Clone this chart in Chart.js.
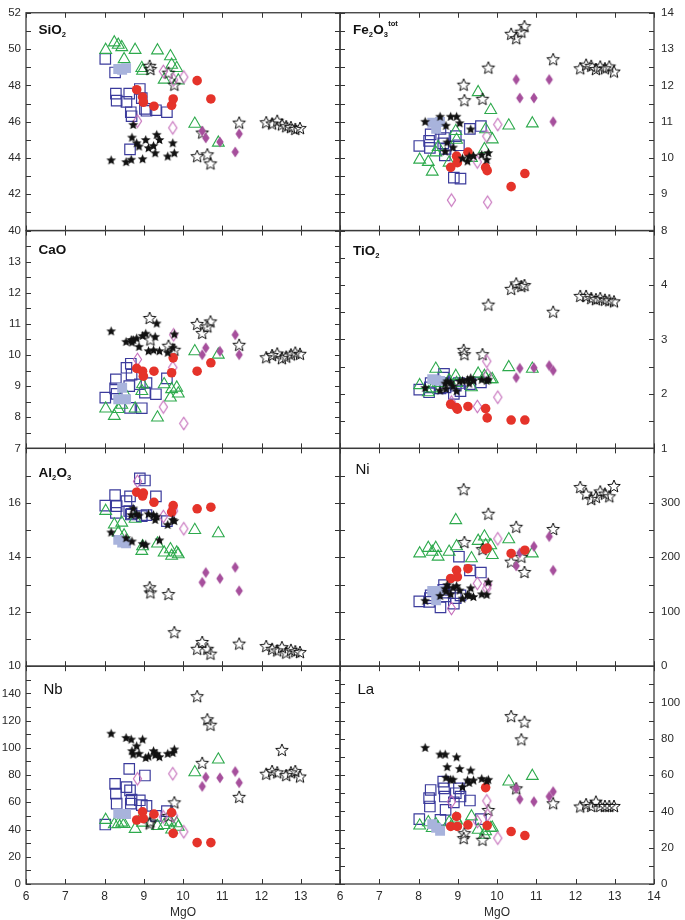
<!DOCTYPE html>
<html>
<head>
<meta charset="utf-8">
<script src="https://cdn.jsdelivr.net/npm/chart.js@4"></script>
<style>
  html, body { margin: 0; padding: 0; background: #fff; }
  #wrap { position: relative; width: 685px; height: 920px; }
</style>
</head>
<body>
<div id="wrap"><canvas id="myChart"></canvas></div>
<script>
// ---- data ----
// black filled stars
const bsMgO   = [8.17, 8.55, 8.68, 8.70, 8.73, 8.82, 8.88, 8.97, 9.05, 9.12, 9.25, 9.29, 9.33, 9.40, 9.61, 9.74, 9.78];
const bsSiO2  = [43.9, 43.8, 43.93, 45.15, 45.85, 44.84, 44.66, 43.96, 45.02, 44.57, 44.69, 44.29, 45.3, 45.02, 44.11, 44.84, 44.29];
const bsFe2O3 = [11.01, 11.15, 10.19, 10.9, 10.44, 11.15, 10.3, 11.15, 10.97, 10.0, 9.92, 10.05, 10.8, 10.07, 10.1, 9.96, 10.15];
const bsCaO   = [10.78, 10.44, 10.5, 10.42, 10.5, 10.55, 10.28, 10.63, 10.7, 10.14, 10.17, 10.6, 11.03, 10.14, 10.09, 10.25, 10.68];
const bsTiO2  = [2.12, 2.07, 2.2, 2.1, 2.24, 2.22, 2.15, 2.06, 2.24, 2.25, 2.27, 2.2, 2.3, 2.25, 2.27, 2.25, 2.27];
const bsAl2O3 = [14.93, 14.72, 15.57, 14.6, 15.81, 15.6, 15.55, 14.51, 14.48, 15.6, 15.57, 15.39, 15.51, 14.64, 15.21, 15.39, 15.35];
const bsNi    = [121, 130, 143, 138, 150, 133, 145, 148, 140, 125, 132, 130, 144, 128, 133, 132, 155];
const bsNb    = [110.8, 107.7, 106.5, 98, 95.5, 101.6, 96, 106.5, 93, 94, 98, 95, 96, 93.6, 96, 96.7, 99.2];
const bsLa    = [75.3, 71.6, 71.6, 58.8, 64.7, 57.7, 57.7, 70.1, 63.7, 53.7, 57.3, 56, 62.8, 57.3, 58.2, 57, 57.7];

// red filled circles
const rcMgO   = [8.82, 8.97, 8.99, 9.26, 9.71, 9.75, 10.36, 10.71];
const rcSiO2  = [47.76, 47.36, 47.07, 46.85, 46.9, 47.25, 48.26, 47.25];
const rcFe2O3 = [9.74, 10.05, 9.87, 10.16, 9.74, 9.65, 9.21, 9.57];
const rcCaO   = [9.57, 9.48, 9.32, 9.48, 9.43, 9.91, 9.48, 9.75];
const rcTiO2  = [1.81, 1.75, 1.72, 1.77, 1.73, 1.56, 1.52, 1.52];
const rcAl2O3 = [16.39, 16.25, 16.36, 16.02, 15.66, 15.9, 15.78, 15.84];
const rcNi    = [161, 176, 164, 179, 215, 217, 207, 213];
const rcNb    = [47, 53, 48, 51.3, 52.5, 37.2, 30.4, 30.4];
const rcLa    = [31.7, 37.2, 31.7, 32.6, 53.1, 32.2, 28.9, 26.7];

// purple filled diamonds
const fdMgO   = [10.49, 10.58, 10.94, 11.33, 11.43];
const fdSiO2  = [45.48, 45.1, 44.88, 44.33, 45.33];
const fdFe2O3 = [12.16, 11.65, 11.65, 12.16, 11.0];
const fdCaO   = [10.01, 10.23, 10.12, 10.65, 10.01];
const fdTiO2  = [2.3, 2.47, 2.48, 2.52, 2.43];
const fdAl2O3 = [13.08, 13.44, 13.22, 13.63, 12.77];
const fdNi    = [184, 208, 220, 238, 176];
const fdNb    = [71.7, 78.5, 78, 82.6, 74.4];
const fdLa    = [52.7, 46.7, 45.4, 48.2, 50.9];

// purple open diamonds
const odMgO   = [8.84, 9.50, 9.74, 9.76, 10.02];
const odSiO2  = [46.03, 48.77, 45.66, 48.3, 48.46];
const odFe2O3 = [8.84, 9.89, 10.6, 8.78, 10.92];
const odCaO   = [9.86, 8.33, 9.6, 10.65, 7.8];
const odTiO2  = [1.85, 1.77, 2.6, 2.35, 1.94];
const odAl2O3 = [16.79, 15.5, 15.8, 15.7, 15.05];
const odNi    = [106, 152, 143, 150, 234];
const odNb    = [77.3, 49.3, 81, 50, 38.4];
const odLa    = [45.4, 34.4, 45.8, 38, 25.3];

// open stars
const osMgO   = [9.15, 9.17, 9.63, 9.78, 10.36, 10.49, 10.62, 10.70, 11.43, 12.12, 12.27, 12.40, 12.52, 12.63, 12.75, 12.86, 12.98];
const osSiO2  = [49.08, 48.9, 48.7, 48.04, 44.1, 45.4, 44.2, 43.7, 45.95, 45.97, 45.9, 46.05, 45.85, 45.75, 45.7, 45.6, 45.65];
const osFe2O3 = [12.02, 11.59, 11.63, 12.49, 13.42, 13.3, 13.48, 13.63, 12.72, 12.47, 12.57, 12.54, 12.45, 12.52, 12.47, 12.52, 12.38];
const osCaO   = [11.19, 10.5, 10.3, 10.17, 11.0, 10.71, 10.92, 11.08, 10.33, 9.93, 10.0, 10.05, 9.9, 9.95, 10.02, 10.08, 10.04];
const osTiO2  = [2.81, 2.73, 2.73, 3.64, 3.93, 4.03, 3.98, 4.0, 3.51, 3.8, 3.8, 3.76, 3.74, 3.76, 3.73, 3.72, 3.7];
const osAl2O3 = [12.9, 12.71, 12.65, 11.25, 10.64, 10.89, 10.64, 10.46, 10.83, 10.74, 10.64, 10.58, 10.7, 10.5, 10.6, 10.55, 10.52];
const osNi    = [325, 228, 215, 280, 192, 256, 201, 173, 252, 329, 317, 307, 311, 321, 317, 312, 331];
const osNb    = [44.5, 46, 50, 60, 138, 89, 121, 117, 64, 81, 83, 82, 98.5, 80, 82, 83, 79];
const osLa    = [25.3, 28, 24.4, 40.8, 92.5, 52.7, 79.7, 89.4, 44.5, 42.7, 44, 43, 45.4, 43, 43, 43, 43];

// light blue filled squares
const lsMgO   = [8.35, 8.45, 8.55];
const lsSiO2  = [48.9, 48.86, 48.95];
const lsFe2O3 = [10.97, 10.8, 10.99];
const lsCaO   = [8.58, 8.95, 8.58];
const lsTiO2  = [2.27, 2.25, 2.24];
const lsAl2O3 = [14.64, 14.54, 14.51];
const lsNi    = [138, 121, 138];
const lsNb    = [51.8, 51.5, 51.3];
const lsLa    = [33, 31, 29.3];

// green open triangles
const trMgO   = [8.03, 8.25, 8.35, 8.44, 8.50, 8.78, 8.95, 8.97, 9.35, 9.52, 9.68, 9.71, 9.84, 9.88, 10.30, 10.90];
const trSiO2  = [49.95, 50.36, 50.23, 50.1, 49.44, 49.95, 48.95, 48.8, 49.92, 48.31, 49.6, 49.13, 48.95, 48.27, 45.88, 44.84];
const trFe2O3 = [9.95, 9.89, 9.62, 10.15, 10.3, 9.87, 10.74, 10.5, 10.0, 11.81, 10.24, 10.79, 11.32, 10.51, 10.89, 10.95];
const trCaO   = [8.28, 8.04, 8.26, 8.4, 8.8, 8.28, 8.84, 9.06, 7.99, 9.06, 8.63, 8.9, 8.95, 8.76, 10.12, 10.01];
const trTiO2  = [2.16, 2.03, 2.1, 2.46, 2.2, 2.25, 2.33, 2.2, 2.12, 2.37, 2.33, 2.3, 2.27, 2.27, 2.49, 2.46];
const trAl2O3 = [15.7, 15.2, 14.9, 15.27, 14.8, 15.41, 14.23, 14.4, 14.5, 14.17, 14.29, 14.05, 14.17, 14.11, 15.0, 14.88];
const trNi    = [207, 217, 210, 217, 201, 210, 268, 220, 198, 230, 238, 222, 222, 204, 233, 207];
const trNb    = [47, 43.8, 44, 45, 44, 40.4, 49.3, 45, 42.5, 43.3, 45.7, 40, 44.5, 42, 82, 91.4];
const trLa    = [32.2, 34, 30.8, 33, 31, 34, 36, 35, 37.2, 29.8, 27.1, 29, 30.8, 31, 56.4, 59.5];

// navy open squares
const sqMgO   = [8.02, 8.27, 8.29, 8.31, 8.56, 8.63, 8.65, 8.67, 8.69, 8.90, 8.95, 9.03, 9.07, 9.31, 9.59];
const sqSiO2  = [49.46, 48.71, 47.54, 47.16, 47.09, 47.54, 44.47, 46.52, 46.3, 47.8, 47.3, 46.7, 46.6, 46.63, 46.52];
const sqFe2O3 = [10.33, 10.47, 10.28, 10.65, 10.8, 10.4, 10.55, 10.07, 10.25, 9.46, 10.6, 10.35, 9.43, 10.8, 10.88];
const sqCaO   = [8.63, 8.93, 9.22, 8.75, 9.59, 9.0, 8.3, 9.72, 9.37, 9.06, 8.29, 8.79, 9.1, 8.74, 9.25];
const sqTiO2  = [2.08, 2.03, 2.12, 2.2, 2.1, 2.3, 2.37, 2.2, 2.12, 2.0, 2.15, 2.2, 2.05, 2.18, 2.21];
const sqAl2O3 = [15.9, 16.28, 15.63, 15.88, 16.06, 15.7, 16.24, 15.57, 15.6, 16.9, 15.51, 16.82, 15.55, 16.24, 15.33];
const sqNi    = [119, 118, 125, 130, 108, 140, 149, 135, 128, 115, 125, 201, 130, 176, 172];
const sqNb    = [43.7, 73.6, 66.4, 59, 71.2, 84.6, 68.8, 59, 62, 61.5, 58, 79.7, 57.4, 50, 53.5];
const sqLa    = [35.7, 47.3, 42.7, 51.8, 35.3, 56.4, 52.7, 48.2, 40.8, 45, 50, 52.7, 48.2, 46, 35.7];

// axis ticks
const mgoTicks = [6, 7, 8, 9, 10, 11, 12, 13, 14];

const FONT = '"Liberation Sans", Arial, Helvetica, sans-serif';
const INK = '#2a2a2a';

// ---- marker images ----
function makeStar(R, r, fill, stroke, lw) {
  const s = Math.ceil(2 * R + 4);
  const c = document.createElement('canvas');
  c.width = s; c.height = s;
  const g = c.getContext('2d');
  g.beginPath();
  for (let i = 0; i < 10; i++) {
    const a = -Math.PI / 2 + i * Math.PI / 5;
    const rad = i % 2 ? r : R;
    g.lineTo(s / 2 + rad * Math.cos(a), s / 2 + 0.6 + rad * Math.sin(a));
  }
  g.closePath();
  if (fill) { g.fillStyle = fill; g.fill(); }
  if (stroke) { g.strokeStyle = stroke; g.lineWidth = lw; g.lineJoin = 'miter'; g.stroke(); }
  return c;
}

function makeDiamond(hw, hh, fill, stroke, lw) {
  const w = Math.ceil(2 * hw + 4), h = Math.ceil(2 * hh + 4);
  const c = document.createElement('canvas');
  c.width = w; c.height = h;
  const g = c.getContext('2d');
  g.beginPath();
  g.moveTo(w / 2, h / 2 - hh);
  g.lineTo(w / 2 + hw, h / 2);
  g.lineTo(w / 2, h / 2 + hh);
  g.lineTo(w / 2 - hw, h / 2);
  g.closePath();
  if (fill) { g.fillStyle = fill; g.fill(); }
  if (stroke) { g.strokeStyle = stroke; g.lineWidth = lw; g.stroke(); }
  return c;
}

// series, top-most first
const series = [
  { mgo: bsMgO, vals: { SiO2: bsSiO2, Fe2O3: bsFe2O3, CaO: bsCaO, TiO2: bsTiO2, Al2O3: bsAl2O3, Ni: bsNi, Nb: bsNb, La: bsLa },
    pointStyle: makeStar(5.2, 2.3, '#111', null, 0), radius: 5, bg: '#111', border: '#111', bw: 0 },
  { mgo: rcMgO, vals: { SiO2: rcSiO2, Fe2O3: rcFe2O3, CaO: rcCaO, TiO2: rcTiO2, Al2O3: rcAl2O3, Ni: rcNi, Nb: rcNb, La: rcLa },
    pointStyle: 'circle', radius: 4.8, bg: '#e5332a', border: '#e5332a', bw: 0 },
  { mgo: fdMgO, vals: { SiO2: fdSiO2, Fe2O3: fdFe2O3, CaO: fdCaO, TiO2: fdTiO2, Al2O3: fdAl2O3, Ni: fdNi, Nb: fdNb, La: fdLa },
    pointStyle: makeDiamond(3.7, 5.6, '#a64f9c', null, 0), radius: 5, bg: '#a64f9c', border: '#a64f9c', bw: 0 },
  { mgo: odMgO, vals: { SiO2: odSiO2, Fe2O3: odFe2O3, CaO: odCaO, TiO2: odTiO2, Al2O3: odAl2O3, Ni: odNi, Nb: odNb, La: odLa },
    pointStyle: makeDiamond(4.1, 6.3, null, '#c46cba', 1.1), radius: 5, bg: 'rgba(0,0,0,0)', border: '#c46cba', bw: 1 },
  { mgo: osMgO, vals: { SiO2: osSiO2, Fe2O3: osFe2O3, CaO: osCaO, TiO2: osTiO2, Al2O3: osAl2O3, Ni: osNi, Nb: osNb, La: osLa },
    pointStyle: makeStar(6.6, 2.9, null, '#111', 1), radius: 6, bg: 'rgba(0,0,0,0)', border: '#111', bw: 1 },
  { mgo: lsMgO, vals: { SiO2: lsSiO2, Fe2O3: lsFe2O3, CaO: lsCaO, TiO2: lsTiO2, Al2O3: lsAl2O3, Ni: lsNi, Nb: lsNb, La: lsLa },
    pointStyle: 'rect', radius: 7, bg: '#a8b3dc', border: '#a8b3dc', bw: 0 },
  { mgo: trMgO, vals: { SiO2: trSiO2, Fe2O3: trFe2O3, CaO: trCaO, TiO2: trTiO2, Al2O3: trAl2O3, Ni: trNi, Nb: trNb, La: trLa },
    pointStyle: 'triangle', radius: 6.8, bg: 'rgba(0,0,0,0)', border: '#2eaa4d', bw: 1.1 },
  { mgo: sqMgO, vals: { SiO2: sqSiO2, Fe2O3: sqFe2O3, CaO: sqCaO, TiO2: sqTiO2, Al2O3: sqAl2O3, Ni: sqNi, Nb: sqNb, La: sqLa },
    pointStyle: 'rect', radius: 7.4, bg: 'rgba(0,0,0,0)', border: '#3b3b9c', bw: 1.2 }
];

// panels: row/col placement, axis range, minor tick step, label step, label text
const panels = [
  { key: 'SiO2',  col: 0, row: 0, min: 40, max: 52, step: 1,   lab: 2,   bold: true,  dx: 12.5, dy: 21.5, text: [['SiO', 'n'], ['2', 'sub']] },
  { key: 'Fe2O3', col: 1, row: 0, min: 8,  max: 14, step: 0.5, lab: 1,   bold: true,  dx: 13,   dy: 21,   text: [['Fe', 'n'], ['2', 'sub'], ['O', 'n'], ['3', 'sub'], ['tot', 'sup']] },
  { key: 'CaO',   col: 0, row: 1, min: 7,  max: 14, step: 0.5, lab: 1,   bold: true,  dx: 12.5, dy: 23,   text: [['CaO', 'n']] },
  { key: 'TiO2',  col: 1, row: 1, min: 1,  max: 5,  step: 0.5, lab: 1,   bold: true,  dx: 13,   dy: 24,   text: [['TiO', 'n'], ['2', 'sub']] },
  { key: 'Al2O3', col: 0, row: 2, min: 10, max: 18, step: 1,   lab: 2,   bold: true,  dx: 12.5, dy: 29,   text: [['Al', 'n'], ['2', 'sub'], ['O', 'n'], ['3', 'sub']] },
  { key: 'Ni',    col: 1, row: 2, min: 0,  max: 400, step: 50, lab: 100, bold: false, dx: 15.5, dy: 26,   text: [['Ni', 'n']] },
  { key: 'Nb',    col: 0, row: 3, min: 0,  max: 160, step: 10, lab: 20,  bold: false, dx: 17.5, dy: 27.5, text: [['Nb', 'n']] },
  { key: 'La',    col: 1, row: 3, min: 0,  max: 120, step: 10, lab: 20,  bold: false, dx: 17.5, dy: 27.5, text: [['La', 'n']] }
];

function tickValues(min, max, step) {
  const out = [];
  const n = Math.round((max - min) / step);
  for (let i = 0; i <= n; i++) out.push(+(min + i * step).toFixed(4));
  return out;
}

// ---- datasets ----
const datasets = [];
panels.forEach(p => {
  series.forEach((s, k) => {
    datasets.push({
      data: s.mgo.map((x, i) => ({ x: x, y: s.vals[p.key][i] })),
      xAxisID: p.col === 0 ? 'xl' : 'xr',
      yAxisID: p.key,
      pointStyle: s.pointStyle,
      pointRadius: s.radius,
      pointHoverRadius: s.radius,
      backgroundColor: s.bg,
      borderColor: s.border,
      pointBorderWidth: s.bw,
      showLine: false,
      order: k
    });
  });
});

// ---- scales ----
function xScale(col) {
  return {
    type: 'linear', position: 'bottom', stack: 'bottomStack', stackWeight: 1, weight: col + 1,
    min: 6, max: 14,
    afterBuildTicks: s => { s.ticks = mgoTicks.map(v => ({ value: v })); },
    afterFit: s => { s.height = 36; },
    grid: { display: false, drawTicks: false },
    border: { display: false },
    ticks: {
      autoSkip: false, maxRotation: 0, padding: 5, color: INK,
      font: { family: FONT, size: 12, lineHeight: 1.2 },
      callback: v => (col === 0 && v === 14) ? '' : String(v)
    },
    title: { display: true, text: 'MgO', color: INK, font: { family: FONT, size: 12 }, padding: { top: 0, bottom: 0 } }
  };
}

function yScale(p) {
  const left = p.col === 0;
  return {
    type: 'linear', position: left ? 'left' : 'right', stack: left ? 'leftStack' : 'rightStack', stackWeight: 1,
    weight: left ? 4 - p.row : p.row + 1,
    min: p.min, max: p.max,
    afterBuildTicks: s => { s.ticks = tickValues(p.min, p.max, p.step).map(v => ({ value: v })); },
    afterFit: s => { s.width = left ? 26 : 31; },
    grid: { display: false, drawTicks: false },
    border: { display: false },
    ticks: {
      autoSkip: false, padding: left ? 5 : 7, color: INK,
      font: { family: FONT, size: 11.5, lineHeight: 1 },
      callback: v => {
        if (p.row > 0 && Math.abs(v - p.max) < 1e-6) return '';
        const q = v / p.lab;
        return Math.abs(q - Math.round(q)) < 1e-6 ? String(v) : '';
      }
    }
  };
}

const scales = { xl: xScale(0), xr: xScale(1) };
panels.forEach(p => { scales[p.key] = yScale(p); });

// frames, inward tick marks and panel labels
const panelDecor = {
  id: 'panelDecor',
  afterDraw(chart) {
    const ctx = chart.ctx;
    ctx.save();
    panels.forEach(p => {
      const xs = chart.scales[p.col === 0 ? 'xl' : 'xr'];
      const ys = chart.scales[p.key];
      const L = xs.left, R = xs.right, T = ys.top, B = ys.bottom;
      ctx.strokeStyle = '#333';
      ctx.lineWidth = 1;
      ctx.beginPath();
      tickValues(p.min, p.max, p.step).forEach(v => {
        const py = Math.round(ys.getPixelForValue(v)) + 0.5;
        ctx.moveTo(L, py); ctx.lineTo(L + 5, py);
        ctx.moveTo(R, py); ctx.lineTo(R - 5, py);
      });
      mgoTicks.forEach(v => {
        const px = Math.round(xs.getPixelForValue(v)) + 0.5;
        ctx.moveTo(px, T); ctx.lineTo(px, T + 5);
        ctx.moveTo(px, B); ctx.lineTo(px, B - 5);
      });
      ctx.stroke();
      ctx.lineWidth = 1.3;
      ctx.strokeStyle = '#3a3a3a';
      ctx.strokeRect(L, T, R - L, B - T);

      // label
      const size = p.bold ? 13.5 : 15;
      let x = L + p.dx;
      const y = T + p.dy;
      ctx.fillStyle = '#111';
      ctx.textBaseline = 'alphabetic';
      ctx.textAlign = 'left';
      p.text.forEach(([s, kind]) => {
        const fs = kind === 'n' ? size : size * 0.56;
        ctx.font = (p.bold ? 'bold ' : '') + fs + 'px ' + FONT;
        const dy = kind === 'sub' ? size * 0.22 : kind === 'sup' ? -size * 0.58 : 0;
        ctx.fillText(s, x, y + dy);
        x += ctx.measureText(s).width + (kind === 'n' ? 0 : 0.3);
      });
    });
    ctx.restore();
  }
};

const ctx = document.getElementById('myChart').getContext('2d');
const mychart = new Chart(ctx, {
  type: 'scatter',
  data: { datasets: datasets },
  options: {
    responsive: true,
    maintainAspectRatio: false,
    animation: false,
    events: [],
    layout: { padding: { top: 6, left: 0, right: 0, bottom: 0 } },
    plugins: { legend: { display: false }, tooltip: { enabled: false } },
    scales: scales
  },
  plugins: [panelDecor]
});
</script>
</body>
</html>
